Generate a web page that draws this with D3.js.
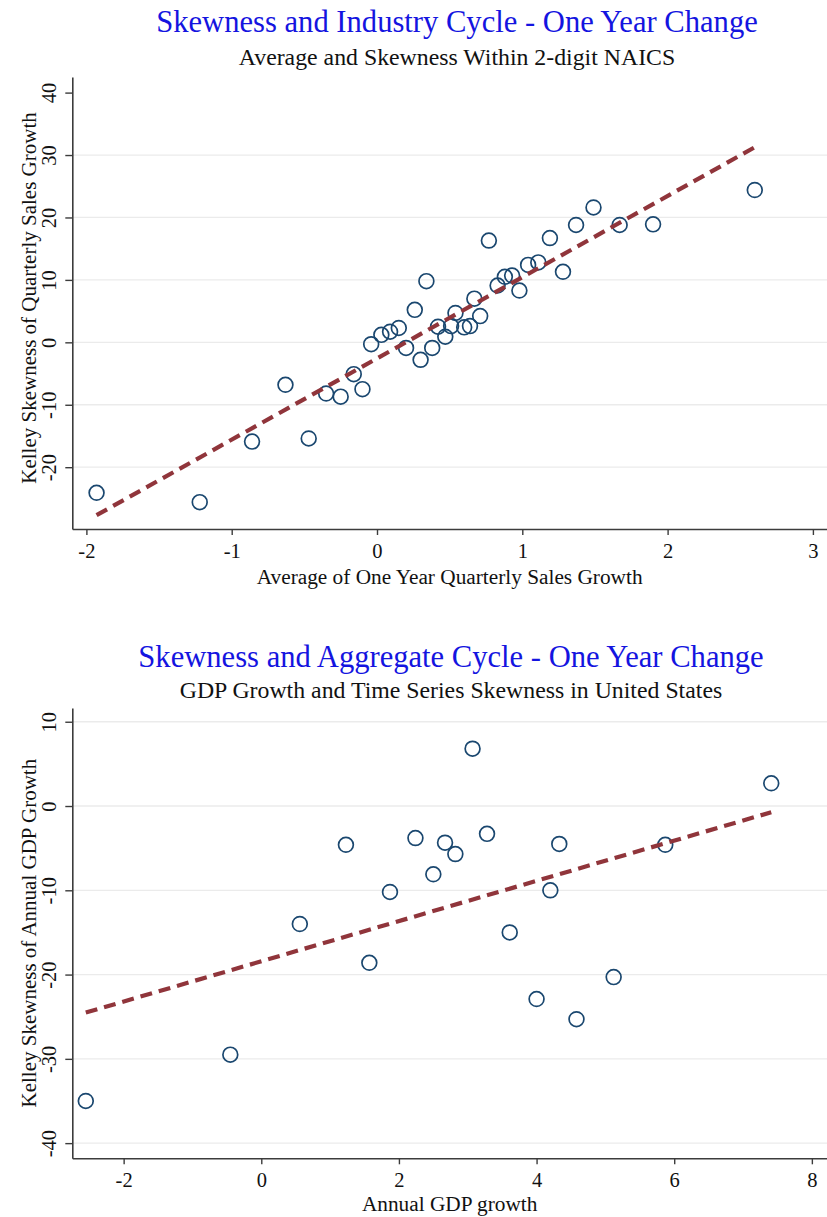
<!DOCTYPE html>
<html>
<head>
<meta charset="utf-8">
<script src="https://cdn.jsdelivr.net/npm/d3@7"></script>
<style>
  html, body { margin: 0; padding: 0; background: #ffffff; }
  svg { display: block; }
  text { font-family: "Liberation Serif", "Times New Roman", serif; fill: #111; }
</style>
</head>
<body>
<svg id="chart" width="827" height="1217"></svg>
<script>
// Panel 1: industry-level average growth vs. Kelley skewness (2-digit NAICS)
const industryAvg = [
  -1.93, -1.22, -0.86, -0.63, -0.47, -0.35, -0.25, -0.16, -0.10, -0.04,
   0.03,  0.09,  0.15,  0.20,  0.26,  0.30,  0.34,  0.38,  0.42,  0.47,
   0.51,  0.54,  0.60,  0.64,  0.67,  0.71,  0.77,  0.83,  0.88,  0.93,
   0.98,  1.04,  1.11,  1.19,  1.28,  1.37,  1.49,  1.67,  1.90,  2.60
];
const industrySkew = [
  -24.1, -25.6, -15.9,  -6.8, -15.4,  -8.2,  -8.7,  -5.1,  -7.5,  -0.3,
    1.2,   1.7,   2.3,  -0.9,   5.2,  -2.8,   9.8,  -0.9,   2.5,   0.9,
    2.6,   4.7,   2.4,   2.6,   7.0,   4.2,  16.3,   9.1,  10.5,  10.7,
    8.3,  12.4,  12.8,  16.7,  11.3,  18.8,  21.6,  18.8,  18.9,  24.4
];
const industryXTicks = [-2, -1, 0, 1, 2, 3];
const industryYTicks = [-20, -10, 0, 10, 20, 30, 40];
const industryGrid = [-20, -10, 0, 10, 20, 30];

// Panel 2: US annual GDP growth vs. time-series Kelley skewness
const gdpGrowth = [
  -2.55, -0.45, 0.56, 1.23, 1.57, 1.87, 2.24, 2.50, 2.67, 2.82,
   3.07,  3.28, 3.61, 4.00, 4.20, 4.33, 4.58, 5.12, 5.87, 7.41
];
const gdpSkew = [
  -35.0, -29.5, -14.0, -4.6, -18.6, -10.2, -3.8, -8.1, -4.35, -5.7,
    6.8,  -3.3, -15.0, -22.9, -10.0, -4.5, -25.3, -20.3, -4.6, 2.7
];
const gdpXTicks = [-2, 0, 2, 4, 6, 8];
const gdpYTicks = [-40, -30, -20, -10, 0, 10];
const gdpGrid = [-40, -30, -20, -10, 0, 10];

const svg = d3.select("#chart");

const COLORS = {
  title: "#1414e0",
  marker: "#1a476f",
  fit: "#90353b",
  axis: "#3c3c3c",
  grid: "#ebebeb"
};

// Least-squares line over the observed x range
function linearFit(xs, ys) {
  const mx = d3.mean(xs), my = d3.mean(ys);
  let sxy = 0, sxx = 0;
  xs.forEach((x, i) => { sxy += (x - mx) * (ys[i] - my); sxx += (x - mx) * (x - mx); });
  const b = sxy / sxx, a = my - b * mx;
  const [x0, x1] = d3.extent(xs);
  return [[x0, a + b * x0], [x1, a + b * x1]];
}

function drawPanel(p) {
  const g = svg.append("g");
  const x = d3.scaleLinear().domain(p.xDomain).range([p.left, p.right]);
  const y = d3.scaleLinear().domain(p.yDomain).range([p.bottom, p.top]);

  // titles
  g.append("text")
    .attr("x", p.titleX).attr("y", p.titleY)
    .attr("text-anchor", "middle")
    .style("font-size", "30.6px")
    .style("fill", COLORS.title)
    .text(p.title);
  g.append("text")
    .attr("x", p.titleX).attr("y", p.subtitleY)
    .attr("text-anchor", "middle")
    .style("font-size", "23.8px")
    .text(p.subtitle);

  // horizontal gridlines
  g.append("g").selectAll("line")
    .data(p.grid)
    .join("line")
    .attr("x1", p.left).attr("x2", p.right)
    .attr("y1", d => y(d)).attr("y2", d => y(d))
    .attr("stroke", COLORS.grid)
    .attr("stroke-width", 1.3);

  // y axis
  const yAxis = g.append("g")
    .attr("transform", `translate(${p.left},0)`)
    .call(d3.axisLeft(y).tickValues(p.yTicks).tickSize(7).tickSizeOuter(0).tickFormat(d => String(d)));
  yAxis.selectAll("text")
    .attr("x", 0).attr("dy", 0)
    .attr("text-anchor", "middle")
    .attr("transform", "translate(-16.5,0) rotate(-90)")
    .style("font-size", "20.5px")
    .style("font-family", "Liberation Serif, serif")
    .style("fill", "#111");

  // x axis
  const xAxis = g.append("g")
    .attr("transform", `translate(0,${p.bottom})`)
    .call(d3.axisBottom(x).tickValues(p.xTicks).tickSize(6).tickSizeOuter(0).tickFormat(d => String(d)));
  xAxis.selectAll("text")
    .attr("y", 29).attr("dy", 0)
    .style("font-size", "20.5px")
    .style("font-family", "Liberation Serif, serif")
    .style("fill", "#111");

  [yAxis, xAxis].forEach(a => {
    a.select(".domain").attr("stroke", COLORS.axis).attr("stroke-width", 1.6);
    a.selectAll(".tick line").attr("stroke", COLORS.axis).attr("stroke-width", 1.4);
  });

  // axis titles
  g.append("text")
    .attr("x", (p.left + p.right) / 2 + p.xTitleShift).attr("y", p.bottom + p.xTitleGap)
    .attr("text-anchor", "middle")
    .style("font-size", "21.3px")
    .text(p.xTitle);
  g.append("text")
    .attr("transform", `translate(36,${(p.top + p.bottom) / 2 + p.yTitleShift}) rotate(-90)`)
    .attr("text-anchor", "middle")
    .style("font-size", "21px")
    .text(p.yTitle);

  // markers
  g.append("g").selectAll("circle")
    .data(p.xs.map((v, i) => [v, p.ys[i]]))
    .join("circle")
    .attr("cx", d => x(d[0]))
    .attr("cy", d => y(d[1]))
    .attr("r", 7.4)
    .attr("fill", "none")
    .attr("stroke", COLORS.marker)
    .attr("stroke-width", 1.7);

  // fitted line
  g.append("path")
    .datum(linearFit(p.xs, p.ys))
    .attr("d", d3.line().x(d => x(d[0])).y(d => y(d[1])))
    .attr("fill", "none")
    .attr("stroke", COLORS.fit)
    .attr("stroke-width", 4.2)
    .attr("stroke-dasharray", "12,7");
}

drawPanel({
  title: "Skewness and Industry Cycle - One Year Change",
  subtitle: "Average and Skewness Within 2-digit NAICS",
  xTitle: "Average of One Year Quarterly Sales Growth",
  yTitle: "Kelley Skewness of Quarterly Sales Growth",
  xs: industryAvg, ys: industrySkew,
  xTicks: industryXTicks, yTicks: industryYTicks, grid: industryGrid,
  xDomain: [-2.097, 3.097], yDomain: [-29.9, 42.5],
  left: 72.3, right: 827, top: 77, bottom: 529,
  titleX: 457, titleY: 32, subtitleY: 65,
  xTitleGap: 55, xTitleShift: 0, yTitleShift: -5
});

drawPanel({
  title: "Skewness and Aggregate Cycle - One Year Change",
  subtitle: "GDP Growth and Time Series Skewness in United States",
  xTitle: "Annual GDP growth",
  yTitle: "Kelley Skewness of Annual GDP Growth",
  xs: gdpGrowth, ys: gdpSkew,
  xTicks: gdpXTicks, yTicks: gdpYTicks, grid: gdpGrid,
  xDomain: [-2.746, 8.22], yDomain: [-41.8, 11.63],
  left: 72.3, right: 827, top: 708, bottom: 1158.3,
  titleX: 451, titleY: 667, subtitleY: 698,
  xTitleGap: 53, xTitleShift: 0, yTitleShift: 0
});
</script>
</body>
</html>
